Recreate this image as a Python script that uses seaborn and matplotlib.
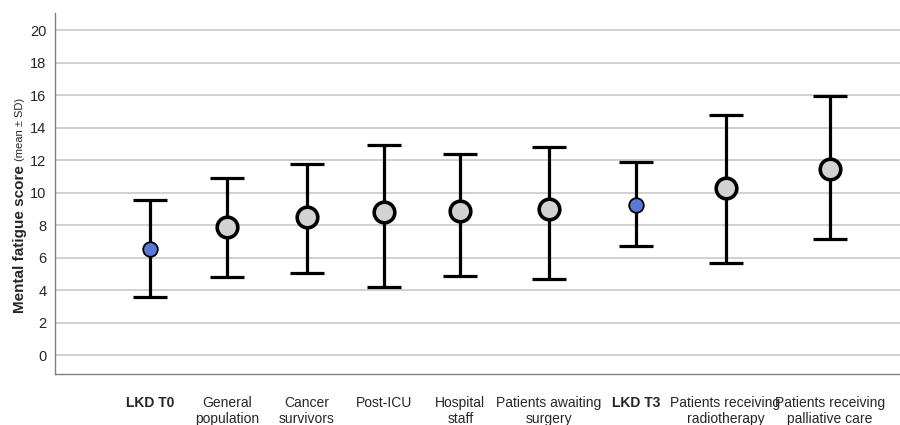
import matplotlib
matplotlib.use("Agg")
import matplotlib.pyplot as plt
import seaborn as sns
import pandas as pd

# -----------------------------
# DATA
# -----------------------------
groups = [
    "LKD T0",
    "General\npopulation",
    "Cancer\nsurvivors",
    "Post-ICU",
    "Hospital\nstaff",
    "Patients awaiting\nsurgery",
    "LKD T3",
    "Patients receiving\nradiotherapy",
    "Patients receiving\npalliative care",
]
mean_score = [6.55, 7.88, 8.48, 8.82, 8.88, 8.98, 9.27, 10.3, 11.44]
sd_upper = [9.55, 10.9, 11.8, 12.96, 12.4, 12.82, 11.88, 14.8, 15.96]
sd_lower = [3.58, 4.8, 5.06, 4.2, 4.9, 4.68, 6.7, 5.68, 7.15]
is_lkd = [True, False, False, False, False, False, True, False, False]

LABEL_SIZE = 10

sns.set_style("white")
plt.rcParams["font.family"] = ["Liberation Sans", "DejaVu Sans"]

fig = plt.figure(figsize=(9, 4.25), dpi=100)
ax = fig.add_axes([0.061, 0.12, 0.939, 0.849])

# -----------------------------
# SLOT LAYOUT: half fixed pitch, half driven by label width
# (x axis in pixel-like units, first slot at 0, last at SPAN)
# -----------------------------
renderer = fig.canvas.get_renderer()
widths = []
for g, b in zip(groups, is_lkd):
    t = fig.text(0, 0, g, fontsize=LABEL_SIZE,
                 fontweight="bold" if b else "normal", ha="center")
    widths.append(t.get_window_extent(renderer).width)
    t.remove()

SPAN = 680
half = [(widths[i - 1] + widths[i]) / 2 for i in range(1, len(widths))]
pitch = (SPAN - 0.5 * sum(half)) / len(half)
xpos = [0.0]
for h in half:
    xpos.append(xpos[-1] + pitch + 0.5 * h)

df = pd.DataFrame({
    "group": groups,
    "x": xpos,
    "mean": mean_score,
    "upper": sd_upper,
    "lower": sd_lower,
    "lkd": is_lkd,
})

# grid lines
ax.set_axisbelow(True)
ax.yaxis.grid(True, color="#c8c8c8", linewidth=1.2)

# error bars (mean ± SD)
ax.errorbar(
    x=df["x"],
    y=df["mean"],
    yerr=[df["mean"] - df["lower"], df["upper"] - df["mean"]],
    fmt="none",
    ecolor="black",
    elinewidth=2.3,
    capsize=12,
    capthick=2.3,
    zorder=2,
)

# points: comparison groups big grey, LKD small blue
others = df[~df["lkd"]]
lkd = df[df["lkd"]]
sns.scatterplot(
    data=others, x="x", y="mean", ax=ax,
    s=220, color="#d3d3d3", edgecolor="black", linewidth=2.6, zorder=3,
)
sns.scatterplot(
    data=lkd, x="x", y="mean", ax=ax,
    s=110, color="#5a78d6", edgecolor="black", linewidth=1.3, zorder=3,
)
ax.set_xticks(df["x"])
ax.set_xticklabels(df["group"])

ax.set_xlim(-95, 750)
ax.set_ylim(-1.15, 21.05)
ax.set_yticks(range(0, 21, 2))
ax.set_xlabel("")
ax.set_ylabel("")

for lab, bold in zip(ax.get_xticklabels(), df["lkd"]):
    lab.set_fontsize(LABEL_SIZE)
    lab.set_verticalalignment("top")
    if bold:
        lab.set_fontweight("bold")
ax.tick_params(axis="x", length=0, pad=16)
ax.tick_params(axis="y", length=0, pad=6, labelsize=10.5)

for side in ["top", "right"]:
    ax.spines[side].set_visible(False)
for side in ["left", "bottom"]:
    ax.spines[side].set_color("#808080")
    ax.spines[side].set_linewidth(1.0)

# y label: bold part + small "(mean ± SD)"
ylab = fig.text(0.022, 1 - 313 / 425, "Mental fatigue score", rotation=90,
                ha="center", va="bottom", fontsize=11, fontweight="bold")
ax.annotate("(mean ± SD)", xy=(0.5, 1.0), xycoords=ylab, xytext=(0, 3),
            textcoords="offset points", rotation=90, ha="center", va="bottom",
            fontsize=8)

fig.savefig("out.png", dpi=100)
